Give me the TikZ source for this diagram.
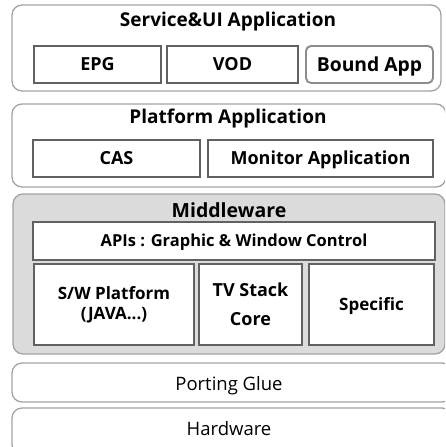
\documentclass[tikz,border=0pt]{standalone}
\usepackage{fontspec}
\setmainfont{Open Sans}
\begin{document}
\begin{tikzpicture}[x=1pt,y=1pt,
  layer/.style={draw=black!36, line width=1.3pt, rounded corners=10pt, fill=white, inner sep=0pt},
  midlayer/.style={layer, fill=black!14},
  part/.style={draw=black!62, line width=1.5pt, fill=white, align=center, inner sep=0pt,
    font=\bfseries\fontsize{18}{20}\selectfont},
  oneline/.style={part, text height=12.85pt, text depth=0pt},
  bound/.style={oneline, draw=black!45, line width=1.9pt, rounded corners=5pt,
    font=\bfseries\fontsize{19.3}{22}\selectfont, text height=13.8pt},
  title/.style={font=\bfseries\fontsize{19}{22}\selectfont, inner sep=0pt, anchor=base},
  plain/.style={font=\fontsize{18.5}{22}\selectfont, inner sep=0pt, anchor=base}]
\useasboundingbox (0,0) rectangle (445,-447);
\clip (0,0) rectangle (445,-447);

% Service & UI application layer
\node[layer, minimum width=429pt, minimum height=86pt] (svc) at (226.5,-48) {};
\node[title] (svct) at (228,-26) {Service\&UI Application};
\node[oneline, minimum width=127pt, minimum height=37pt] (epg) at (97.5,-64.5) {EPG};
\node[oneline, minimum width=131pt, minimum height=37pt] (vod) at (232.5,-64.5) {VOD};
\node[bound, minimum width=127pt, minimum height=37pt] (bapp) at (369.5,-64.5) {Bound App};

% Platform application layer
\node[layer, minimum width=434pt, minimum height=83pt] (plat) at (229,-145.5) {};
\node[title] (platt) at (228,-123) {Platform Application};
\node[oneline, minimum width=167pt, minimum height=37pt] (cas) at (116.5,-158.5) {CAS};
\node[oneline, minimum width=225pt, minimum height=37pt] (mon) at (320.5,-158.5) {Monitor Application};

% Middleware layer
\node[midlayer, minimum width=432pt, minimum height=160pt] (mw) at (229,-274) {};
\node[title, font=\bfseries\fontsize{19.5}{22}\selectfont] (mwt) at (229,-217) {Middleware};
\node[oneline, font=\bfseries\fontsize{16.5}{19}\selectfont, text height=11.8pt,
  minimum width=402pt, minimum height=38pt] (api) at (234,-241) {APIs : Graphic \& Window Control};
\node[part, font=\bfseries\fontsize{17}{20}\selectfont,
  minimum width=160pt, minimum height=81pt] (sw) at (114,-304.5) {S/W Platform\\(JAVA...)};
\node[part, minimum width=103pt, minimum height=81pt] (tv) at (250.5,-304.5) {TV Stack\\[9pt]Core};
\node[oneline, font=\bfseries\fontsize{17}{20}\selectfont, text height=12.1pt,
  minimum width=125pt, minimum height=81pt] (spec) at (371.5,-304.5) {Specific};

% Porting glue and hardware
\node[layer, minimum width=440pt, minimum height=39pt] (glue) at (232,-382.5) {};
\node[plain] (gluet) at (229,-390) {Porting Glue};
\node[layer, minimum width=440pt, minimum height=47pt] (hw) at (232,-431.5) {};
\node[plain] (hwt) at (229,-435.5) {Hardware};
\end{tikzpicture}
\end{document}
